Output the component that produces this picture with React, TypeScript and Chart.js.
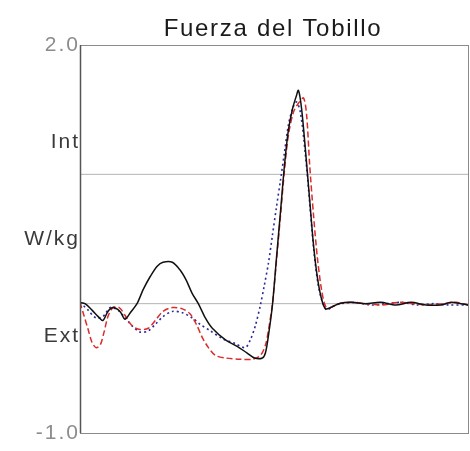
import React, { useEffect, useRef } from "react";
import { Chart, registerables } from "chart.js";

Chart.register(...registerables);

const titleText = "Fuerza del Tobillo";
const tickValues = [2.0, 1.25, 0.5, -0.25, -1.0];
const tickLabels = ["2.0", "Int", "W/kg", "Ext", "-1.0"];
const refLevels = [0, 1];

// % of gait cycle
const blackX = [0, 1.3, 3.1, 4.7, 5.9, 7.2, 8.5, 10.3, 11.6, 13.2, 14.7, 16.3, 18.1, 19.9, 21.4, 23.8, 25.8, 27.4, 28.9, 30.5, 32.3, 34.1, 37.5, 40.5, 43.0, 45.0, 47.0, 47.8, 48.6, 49.6, 50.6, 51.7, 52.7, 53.7, 54.8, 55.8, 56.3, 57.1, 58.1, 59.2, 60.2, 61.2, 62.3, 63.3, 64.6, 66.7, 69.8, 73.6, 77.5, 81.4, 85.3, 89.1, 93.0, 95.6, 98.2, 100];
const blackY = [0.01, 0.0, -0.05, -0.1, -0.13, -0.06, -0.03, -0.06, -0.12, -0.06, 0.0, 0.11, 0.21, 0.29, 0.32, 0.32, 0.26, 0.18, 0.08, 0.0, -0.11, -0.19, -0.28, -0.33, -0.38, -0.42, -0.42, -0.38, -0.24, -0.01, 0.34, 0.72, 1.07, 1.34, 1.51, 1.61, 1.65, 1.51, 1.19, 0.8, 0.45, 0.2, 0.03, -0.04, -0.03, 0.0, 0.01, 0.0, 0.01, -0.01, 0.01, -0.01, -0.01, 0.01, 0.0, -0.01];

const blueX = [0, 2.1, 4.1, 5.9, 7.8, 9.8, 11.6, 13.4, 15.5, 17.6, 19.4, 21.4, 23.8, 26.4, 28.9, 31.0, 33.6, 36.7, 40.1, 42.6, 43.9, 45.2, 46.5, 47.5, 48.6, 49.6, 50.6, 51.7, 52.7, 53.7, 54.8, 55.8, 56.8, 58.1, 59.2, 60.2, 61.2, 62.3, 63.6, 65.1, 67.2, 71.0, 75.0, 79.0, 83.0, 87.0, 91.0, 95.0, 100];
const blueY = [0.01, -0.05, -0.11, -0.1, -0.03, -0.05, -0.11, -0.17, -0.22, -0.21, -0.16, -0.1, -0.06, -0.07, -0.11, -0.16, -0.21, -0.27, -0.31, -0.34, -0.28, -0.17, -0.01, 0.14, 0.32, 0.53, 0.74, 0.96, 1.17, 1.38, 1.51, 1.56, 1.48, 1.15, 0.78, 0.43, 0.18, 0.03, -0.05, -0.02, 0.0, 0.01, -0.01, 0.0, 0.01, -0.01, 0.0, -0.01, -0.01];

const redX = [0, 1.0, 2.1, 3.1, 4.1, 5.2, 6.2, 7.2, 8.5, 10.1, 11.6, 13.4, 15.5, 17.6, 19.4, 21.4, 23.8, 26.4, 28.4, 30.0, 31.5, 33.1, 34.9, 37.5, 41.3, 44.4, 46.5, 47.8, 48.6, 49.6, 50.6, 51.7, 52.7, 53.7, 55.0, 56.3, 57.6, 58.4, 59.2, 60.2, 61.2, 62.3, 63.3, 64.6, 66.7, 70.0, 74.0, 78.0, 82.0, 86.0, 90.0, 94.0, 97.0, 100];
const redY = [0.01, -0.09, -0.2, -0.3, -0.34, -0.32, -0.22, -0.1, -0.03, -0.03, -0.09, -0.17, -0.2, -0.19, -0.13, -0.06, -0.03, -0.04, -0.08, -0.16, -0.26, -0.34, -0.4, -0.42, -0.43, -0.43, -0.4, -0.32, -0.2, 0.0, 0.32, 0.69, 1.03, 1.3, 1.48, 1.55, 1.59, 1.46, 1.07, 0.68, 0.35, 0.1, -0.02, -0.03, 0.0, 0.01, 0.0, -0.01, 0.01, 0.0, -0.01, 0.0, 0.01, -0.01];

const toPts = (xs: number[], ys: number[]) => xs.map((x, i) => ({ x, y: ys[i] }));

export default function App() {
  const ref = useRef<HTMLCanvasElement | null>(null);

  useEffect(() => {
    document.body.style.margin = "0";
    document.body.style.overflow = "hidden";
    const canvas = ref.current;
    if (!canvas) return;

    const framePlugin = {
      id: "frame",
      beforeDraw(chart: any) {
        const ctx = chart.ctx;
        ctx.fillStyle = "#ffffff";
        ctx.fillRect(0, 0, chart.width, chart.height);
        ctx.letterSpacing = "2px";
      },
      beforeDatasetsDraw(chart: any) {
        chart.ctx.letterSpacing = "0px";
      },
      afterDraw(chart: any) {
        const { ctx, chartArea } = chart;
        ctx.save();
        ctx.strokeStyle = "#8a8a8a";
        ctx.lineWidth = 1;
        ctx.strokeRect(chartArea.left + 0.5, chartArea.top + 0.5, chartArea.right - chartArea.left, chartArea.bottom - chartArea.top);
        ctx.strokeStyle = "#555555";
        ctx.lineWidth = 1.5;
        ctx.beginPath();
        ctx.moveTo(chartArea.left + 0.5, chartArea.top);
        ctx.lineTo(chartArea.left + 0.5, chartArea.bottom);
        ctx.stroke();
        ctx.letterSpacing = "1.7px";
        ctx.fillStyle = "#1a1a1a";
        ctx.font = "24px 'Liberation Sans', Arial, sans-serif";
        ctx.textAlign = "center";
        ctx.textBaseline = "alphabetic";
        ctx.fillText(titleText, (chartArea.left + chartArea.right) / 2 - 1, 36);
        ctx.restore();
      },
    };

    const refSets = refLevels.map((v) => ({
      label: "ref" + v,
      data: [{ x: 0, y: v }, { x: 100, y: v }],
      borderColor: "#b4b4b4",
      borderWidth: 1,
      pointRadius: 0,
      order: 10,
    }));

    const chart = new Chart(canvas, {
      type: "line",
      data: {
        datasets: [
          ...refSets,
          {
            label: "Blue",
            data: toPts(blueX, blueY),
            borderColor: "#2a2a9a",
            borderWidth: 1.6,
            borderDash: [2, 3],
            pointRadius: 0,
            tension: 0.3,
            order: 3,
          },
          {
            label: "Red",
            data: toPts(redX, redY),
            borderColor: "#dd2a2a",
            borderWidth: 1.5,
            borderDash: [6, 3],
            pointRadius: 0,
            tension: 0.3,
            order: 2,
          },
          {
            label: "Black",
            data: toPts(blackX, blackY),
            borderColor: "#111111",
            borderWidth: 1.5,
            pointRadius: 0,
            tension: 0.3,
            order: 1,
          },
        ],
      },
      options: {
        animation: false,
        responsive: false,
        maintainAspectRatio: false,
        layout: { padding: { top: 45, right: 2, bottom: 18, left: 0 } },
        plugins: { legend: { display: false }, tooltip: { enabled: false }, title: { display: false } },
        scales: {
          x: { type: "linear", min: 0, max: 100, display: false },
          y: {
            type: "linear",
            min: -1,
            max: 2,
            afterBuildTicks: (scale: any) => {
              scale.ticks = tickValues.map((v) => ({ value: v }));
            },
            afterFit: (scale: any) => {
              scale.width = 80;
            },
            grid: { display: false, drawTicks: false },
            border: { display: false },
            ticks: {
              padding: 0,
              font: { family: "'Liberation Sans', Arial, sans-serif", size: 21 },
              color: (c: any) => {
                const v = c.tick ? c.tick.value : 0;
                return v === 2 || v === -1 ? "#8c8c8c" : "#3a3a3a";
              },
              callback: (value: any) => {
                const i = tickValues.findIndex((t) => Math.abs(t - Number(value)) < 1e-6);
                return i >= 0 ? tickLabels[i] : "";
              },
            },
          },
        },
      },
      plugins: [framePlugin],
    });

    return () => chart.destroy();
  }, []);

  return (
    <div style={{ width: 470, height: 451 }}>
      <canvas ref={ref} width={470} height={451} style={{ display: "block" }} />
    </div>
  );
}
